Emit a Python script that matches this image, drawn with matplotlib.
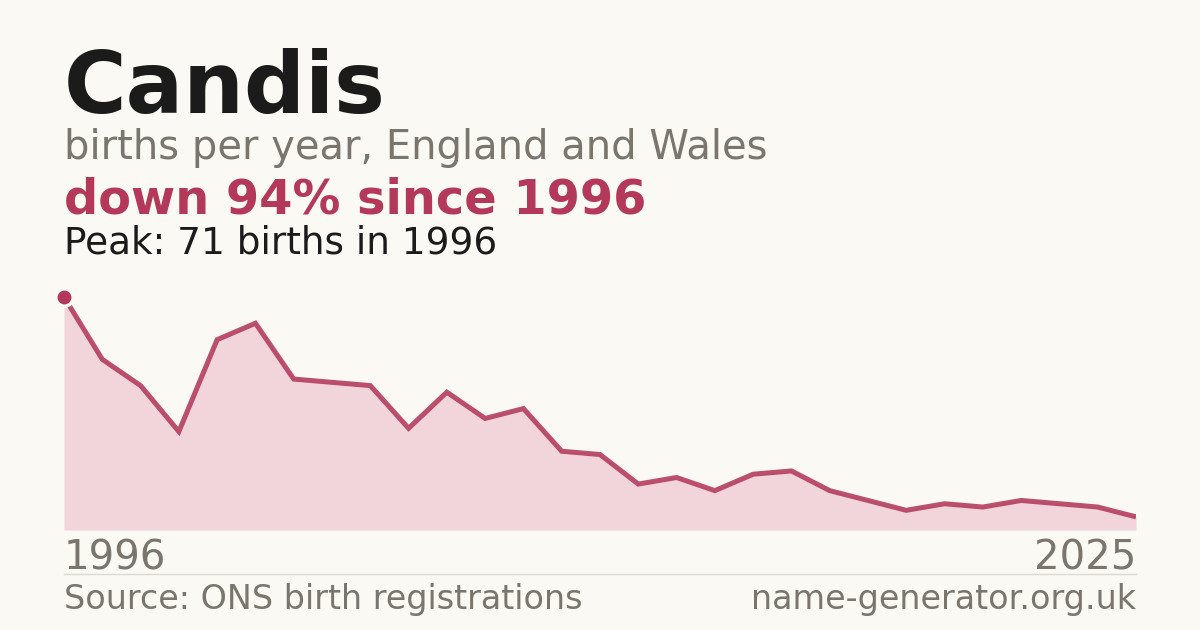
import matplotlib
matplotlib.use("Agg")
import matplotlib.pyplot as plt

# ---- data ----
name = "Candis"
start_label = "1996"
end_label = "2025"
births = [71, 52, 44, 30, 58, 63, 46, 45, 44, 31, 42, 34, 37, 24, 23,
          14, 16, 12, 17, 18, 12, 9, 6, 8, 7, 9, 8, 7, 4]
peak_value = 71
peak_year = "1996"

BG = "#faf9f4"
CRIMSON = "#b3385a"
FILL = "#f1d5da"
DARK = "#1b1b1b"
GRAY = "#7a756d"

W, H = 1200, 630
fig = plt.figure(figsize=(12, 6.3), dpi=100, facecolor=BG)
plt.rcParams['font.family'] = ['DejaVu Sans']

def fy(py):
    return 1 - py / H

def fx(px):
    return px / W

# ---- texts ----
fig.text(fx(64), fy(113), name, fontsize=61.5, fontweight='bold', color=DARK, va='baseline', ha='left')
fig.text(fx(64), fy(159), "births per year, England and Wales", fontsize=28.8, color=GRAY, va='baseline', ha='left')
fig.text(fx(64), fy(214), "down 94% since 1996", fontsize=34.5, fontweight='bold', color=CRIMSON, va='baseline', ha='left')
fig.text(fx(64), fy(253), f"Peak: {peak_value} births in {peak_year}", fontsize=26.9, color=DARK, va='baseline', ha='left')

fig.text(fx(64), fy(569), start_label, fontsize=28.9, color=GRAY, va='baseline', ha='left')
fig.text(fx(1136), fy(569), end_label, fontsize=28.9, color=GRAY, va='baseline', ha='right')
fig.text(fx(64), fy(609), "Source: ONS birth registrations", fontsize=24, color=GRAY, va='baseline', ha='left')
fig.text(fx(1136), fy(609), "name-generator.org.uk", fontsize=24, color=GRAY, va='baseline', ha='right')

# separator line
fig.add_artist(plt.Line2D([fx(64), fx(1136)], [fy(574), fy(574)], color="#dcd9d2", lw=1.0))

# ---- chart ----
ax = fig.add_axes([fx(64), fy(530), 1072 / W, 250 / H])
ax.set_facecolor('none')
x = list(range(len(births)))
ax.fill_between(x, births, 0, color=FILL, lw=0)
ax.plot(x, births, color=CRIMSON, lw=3.6, solid_capstyle='butt', solid_joinstyle='miter', alpha=0.88)
ax.plot([0], [births[0]], 'o', ms=12.5, color=CRIMSON, mec=BG, mew=2.5, zorder=5, clip_on=False)
ax.set_xlim(0, len(births) - 1)
ax.set_ylim(0, peak_value * 250 / 233)
ax.axis('off')

fig.savefig("out.png", dpi=100, facecolor=BG)
